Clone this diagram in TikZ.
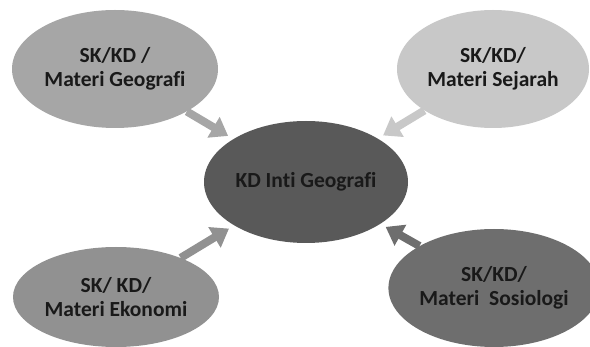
\documentclass[tikz,border=0pt]{standalone}
\usepackage{fontspec}
\setmainfont[Ligatures=NoCommon]{Carlito}
\usepackage{tikz}
\usetikzlibrary{arrows.meta}
\usetikzlibrary{shapes.geometric}

\definecolor{geoGray}{RGB}{166,166,166}
\definecolor{sejGray}{RGB}{200,200,200}
\definecolor{ekoGray}{RGB}{145,145,145}
\definecolor{sosGray}{RGB}{110,110,110}
\definecolor{intiGray}{RGB}{89,89,89}
\definecolor{txtGray}{RGB}{25,25,25}

\begin{document}
\begin{tikzpicture}[x=1pt, y=-1pt,
    bubble/.style={ellipse, inner sep=0, align=center, text=txtGray,
        font=\fontsize{21.5}{24}\selectfont\bfseries},
    flow/.style={line width=8pt, -{Triangle[width=23pt, length=17pt]}}]
        \useasboundingbox (0,0) rectangle (590,347);
        \node[bubble, fill=intiGray, minimum width=204, minimum height=122] (inti) at (306,182) {KD Inti Geografi};
        \node[bubble, fill=geoGray, minimum width=206, minimum height=118] (geo) at (115,69) {SK/KD /\\Materi Geografi};
        \node[bubble, fill=sejGray, minimum width=192, minimum height=118] (sej) at (493,69) {SK/KD/\\Materi Sejarah};
        \node[bubble, fill=ekoGray, minimum width=206, minimum height=100] (eko) at (116,297) {SK/ KD/\\Materi Ekonomi};
        \node[bubble, fill=sosGray, minimum width=192, minimum height=118] (sos) at (494,288) {SK/KD/\\Materi\ \ Sosiologi};
        \draw[flow, geoGray, shorten >=6pt] (geo) -- (inti);
        \draw[flow, sejGray, shorten >=6pt] (sej) -- (inti);
        \draw[flow, ekoGray, shorten >=6pt] (eko) -- (inti);
        \draw[flow, sosGray, shorten >=6pt] (sos) -- (inti);
    \end{tikzpicture}
\end{document}
